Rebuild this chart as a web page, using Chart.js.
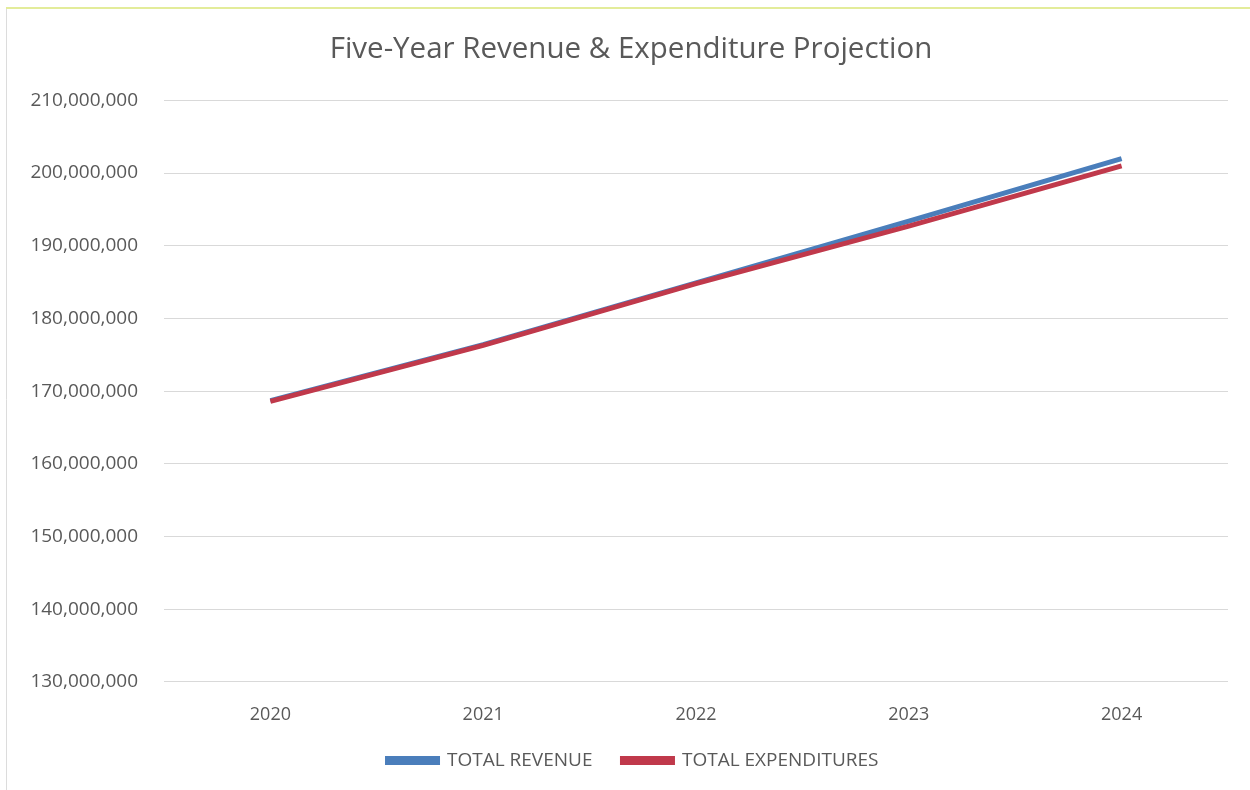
<!DOCTYPE html>
<html>
<head>
<meta charset="utf-8">
<title>Five-Year Revenue &amp; Expenditure Projection</title>
<script src="https://cdn.jsdelivr.net/npm/chart.js@4/dist/chart.umd.min.js"></script>
<style>
  html, body { margin: 0; padding: 0; background: #ffffff; }
  #wrap { position: relative; width: 1250px; height: 790px; }
</style>
</head>
<body>
<div id="wrap"><canvas id="chart" width="1250" height="790"></canvas></div>
<script>
// Fiscal years on the horizontal axis
const years = ['2020', '2021', '2022', '2023', '2024'];

// Projected totals (dollars)
const totalRevenue      = [168700000, 176400000, 184900000, 193400000, 202000000];
const totalExpenditures = [168600000, 176300000, 184800000, 192700000, 201000000];

// Value axis range and spacing
const yMin = 130000000;
const yMax = 210000000;
const yStep = 10000000;

const textColor = '#595959';
const fontFamily = '"Open Sans", "Liberation Sans", sans-serif';

// Frame lines around the chart area of the sheet
const framePlugin = {
  id: 'frame',
  beforeDraw(chart) {
    const ctx = chart.ctx;
    ctx.save();
    ctx.fillStyle = '#ffffff';
    ctx.fillRect(0, 0, chart.width, chart.height);
    ctx.strokeStyle = '#e3ec9a';
    ctx.lineWidth = 2;
    ctx.beginPath();
    ctx.moveTo(6, 8);
    ctx.lineTo(chart.width, 8);
    ctx.stroke();
    ctx.strokeStyle = '#dcdcdc';
    ctx.lineWidth = 1;
    ctx.beginPath();
    ctx.moveTo(6.5, 9);
    ctx.lineTo(6.5, chart.height);
    ctx.stroke();
    ctx.restore();
  }
};

// Centre the title and legend a little right of the full canvas width
const centreShiftPlugin = {
  id: 'centreShift',
  afterLayout(chart) {
    if (chart.titleBlock) { chart.titleBlock.left += 15; chart.titleBlock.right += 15; }
    if (chart.legend) { chart.legend.left += 17; chart.legend.right += 17; }
  }
};

new Chart(document.getElementById('chart'), {
  type: 'line',
  data: {
    labels: years,
    datasets: [
      {
        label: 'TOTAL REVENUE',
        data: totalRevenue,
        borderColor: '#4a7ebb',
        backgroundColor: '#4a7ebb',
        borderWidth: 5,
        pointRadius: 0,
        tension: 0,
        order: 1
      },
      {
        label: 'TOTAL EXPENDITURES',
        data: totalExpenditures,
        borderColor: '#c0394b',
        backgroundColor: '#c0394b',
        borderWidth: 5,
        pointRadius: 0,
        tension: 0,
        order: 0
      }
    ]
  },
  options: {
    responsive: false,
    animation: false,
    layout: { padding: { left: 4, right: 22, top: 22, bottom: 10 } },
    plugins: {
      title: {
        display: true,
        text: 'Five-Year Revenue & Expenditure Projection',
        color: textColor,
        font: { family: fontFamily, size: 29.5, weight: 'normal' },
        padding: { top: 10, bottom: 33 }
      },
      legend: {
        position: 'bottom',
        labels: {
          color: textColor,
          font: { family: fontFamily, size: 19 },
          boxWidth: 50,
          boxHeight: 4,
          padding: 30,
          sort: (a, b) => a.datasetIndex - b.datasetIndex
        }
      },
      tooltip: { enabled: false }
    },
    scales: {
      x: {
        offset: true,
        grid: { display: false },
        border: { display: false },
        ticks: {
          color: textColor,
          font: { family: fontFamily, size: 18 },
          padding: 14
        },
        afterFit(scale) { scale.height -= 18.5; }
      },
      y: {
        min: yMin,
        max: yMax,
        grid: { color: '#d9d9d9', lineWidth: 1, drawTicks: false },
        border: { display: false },
        ticks: {
          stepSize: yStep,
          color: textColor,
          font: { family: fontFamily, size: 19 },
          padding: 26,
          callback: (v) => v.toLocaleString('en-US')
        },
        afterFit(scale) { scale.width = 160; }
      }
    }
  },
  plugins: [framePlugin, centreShiftPlugin]
});
</script>
</body>
</html>
